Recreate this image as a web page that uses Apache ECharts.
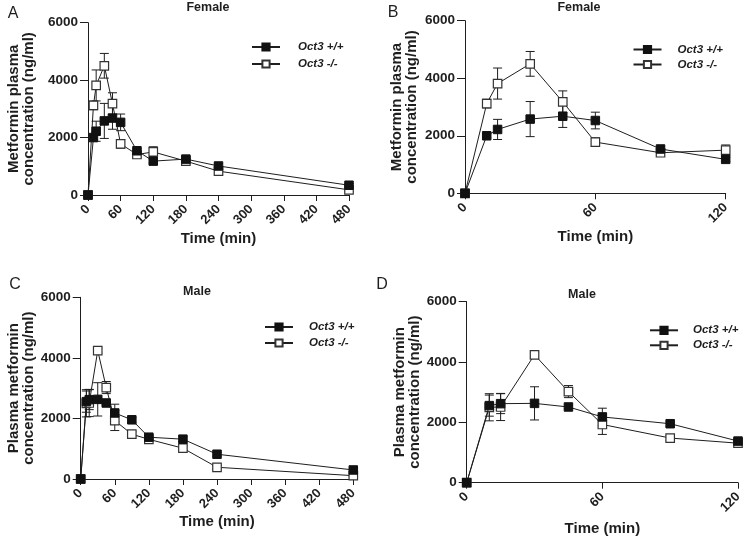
<!DOCTYPE html>
<html>
<head>
<meta charset="utf-8">
<script src="https://cdn.jsdelivr.net/npm/echarts@6/dist/echarts.min.js"></script>
<style>
html,body{margin:0;padding:0;background:#fff;}
#chart{width:745px;height:539px;}
</style>
</head>
<body>
<div id="chart"></div>
<script>
const times = [0, 10, 15, 30, 45, 60, 90, 120, 180, 240, 480];
const femaleWT    = [0, 2000, 2220, 2580, 2680, 2530, 1540, 1180, 1250, 1010, 340];
const femaleWTErr = [0, 60, 350, 610, 390, 290, 80, 70, 80, 80, 60];
const femaleKO    = [0, 3120, 3815, 4500, 3180, 1780, 1410, 1500, 1180, 830, 180];
const femaleKOErr = [0, 150, 540, 430, 380, 150, 80, 180, 80, 60, 50];
const maleWT      = [0, 2555, 2620, 2630, 2510, 2180, 1955, 1380, 1315, 818, 298];
const maleWTErr   = [0, 350, 330, 550, 60, 290, 80, 80, 80, 60, 60];
const maleKO      = [0, 2500, 2510, 4240, 3020, 1930, 1480, 1310, 1017, 387, 110];
const maleKOErr   = [0, 450, 450, 80, 200, 330, 80, 60, 80, 60, 40];
const xTicksFull = [0, 60, 120, 180, 240, 300, 360, 420, 480];
const xTicksZoom = [0, 60, 120];
const yTicks = [0, 2000, 4000, 6000];
const seriesNames = ['Oct3 +/+', 'Oct3 -/-'];
const panelLetters = ['A', 'B', 'C', 'D'];
const panelTitles = ['Female', 'Female', 'Male', 'Male'];
const yNames = ['Metformin plasma\nconcentration (ng/ml)', 'Metformin plasma\nconcentration (ng/ml)',
                'Plasma metformin\nconcentration (ng/ml)', 'Plasma metformin\nconcentration (ng/ml)'];

const FONT = 'Liberation Sans, Arial, sans-serif';
const INK = '#1e1e1e';

const panels = [
  {grid:{left:88, top:22.7, width:261, height:172.3}, xmax:480, xticks:xTicksFull, wt:femaleWT, wtE:femaleWTErr, ko:femaleKO, koE:femaleKOErr,
   yGap:52, xGap:36, legend:{left:251, top:41, gap:5, pad:13}, letter:[13,14], title:[208,8]},
  {grid:{left:465, top:20.7, width:260.7, height:172.6}, xmax:120, xticks:xTicksZoom, wt:femaleWT, wtE:femaleWTErr, ko:femaleKO, koE:femaleKOErr,
   yGap:46, xGap:36, legend:{left:632.5, top:43.5, gap:3, pad:11}, letter:[393,13], title:[579,8]},
  {grid:{left:80.7, top:297.3, width:272.6, height:181.7}, xmax:480, xticks:xTicksFull, wt:maleWT, wtE:maleWTErr, ko:maleKO, koE:maleKOErr,
   yGap:43, xGap:35, legend:{left:264, top:321, gap:4, pad:11}, letter:[15,285], title:[197,292]},
  {grid:{left:466.7, top:301.7, width:271.3, height:181}, xmax:120, xticks:xTicksZoom, wt:maleWT, wtE:maleWTErr, ko:maleKO, koE:maleKOErr,
   yGap:41, xGap:39, legend:{left:649, top:324.3, gap:3, pad:10}, letter:[382,285], title:[582,295]}
];

function errRender(params, api) {
  const x = api.value(0), y = api.value(1), e = api.value(2);
  if (!e) return null;
  const top = api.coord([x, y + e]);
  const bot = api.coord([x, y - e]);
  const w = 4.5;
  const st = {stroke: INK, lineWidth: 1};
  return {type:'group', children:[
    {type:'line', shape:{x1:top[0], y1:top[1], x2:bot[0], y2:bot[1]}, style:st},
    {type:'line', shape:{x1:top[0]-w, y1:top[1], x2:top[0]+w, y2:top[1]}, style:st},
    {type:'line', shape:{x1:bot[0]-w, y1:bot[1], x2:bot[0]+w, y2:bot[1]}, style:st}
  ]};
}

const grids = [], xAxes = [], yAxes = [], series = [], legends = [], graphics = [];
panels.forEach((p, i) => {
  grids.push(Object.assign({containLabel:false}, p.grid));
  xAxes.push({
    type:'value', gridIndex:i, min:0, max:p.xmax, interval:60,
    name:'Time (min)', nameLocation:'middle', nameGap:p.xGap,
    nameTextStyle:{fontFamily:FONT, fontWeight:'bold', fontSize:15, color:INK},
    axisLine:{show:true, onZero:false, lineStyle:{color:INK, width:1}},
    axisTick:{show:true, length:6, lineStyle:{color:INK}},
    axisLabel:{rotate:45, margin:12, fontFamily:FONT, fontWeight:'bold', fontSize:13, color:INK,
      customValues:p.xticks, formatter:(v) => String(v)},
    splitLine:{show:false}
  });
  yAxes.push({
    type:'value', gridIndex:i, min:0, max:6000, interval:2000,
    name:yNames[i], nameLocation:'middle', nameGap:p.yGap,
    nameTextStyle:{fontFamily:FONT, fontWeight:'bold', fontSize:15, lineHeight:15, color:INK},
    axisLine:{show:true, lineStyle:{color:INK, width:1}},
    axisTick:{show:true, length:8, lineStyle:{color:INK}},
    axisLabel:{margin:10, fontFamily:FONT, fontWeight:'bold', fontSize:13.5, color:INK,
      customValues:yTicks, formatter:(v) => String(v)},
    splitLine:{show:false}
  });
  const keep = (arr) => times.map((t, k) => [t, arr[k]]).filter(d => d[0] <= p.xmax);
  const keepE = (arr, e) => times.map((t, k) => [t, arr[k], e[k]]).filter(d => d[0] <= p.xmax);
  series.push({type:'custom', name:'errKO'+i, xAxisIndex:i, yAxisIndex:i, renderItem:errRender,
    encode:{x:0, y:1}, data:keepE(p.ko, p.koE), z:1, silent:true});
  series.push({type:'custom', name:'errWT'+i, xAxisIndex:i, yAxisIndex:i, renderItem:errRender,
    encode:{x:0, y:1}, data:keepE(p.wt, p.wtE), z:1, silent:true});
  series.push({type:'line', name:seriesNames[1], xAxisIndex:i, yAxisIndex:i, data:keep(p.ko),
    symbol:'rect', symbolSize:8.5, z:3,
    lineStyle:{color:INK, width:1},
    itemStyle:{color:'#ffffff', borderColor:'#333', borderWidth:1.2}});
  series.push({type:'line', name:seriesNames[0], xAxisIndex:i, yAxisIndex:i, data:keep(p.wt),
    symbol:'rect', symbolSize:8.5, z:4,
    lineStyle:{color:INK, width:1},
    itemStyle:{color:'#111', borderColor:'#111', borderWidth:1}});
  legends.push({
    left:p.legend.left, top:p.legend.top, orient:'vertical', itemGap:p.legend.gap, padding:0,
    itemWidth:28, itemHeight:9, data:seriesNames, selectedMode:false,
    textStyle:{fontFamily:FONT, fontWeight:'bold', fontStyle:'italic', fontSize:11.5, color:INK,
      lineHeight:12, padding:[0,0,0,p.legend.pad]}
  });
  graphics.push({type:'text', x:p.letter[0], y:p.letter[1],
    style:{text:panelLetters[i], font:'16px ' + FONT, fill:INK, align:'center', verticalAlign:'middle'}});
  graphics.push({type:'text', x:p.title[0], y:p.title[1],
    style:{text:panelTitles[i], font:'bold 12.5px ' + FONT, fill:INK, align:'center', verticalAlign:'middle'}});
});

const chart = echarts.init(document.getElementById('chart'), null, {renderer:'canvas'});
chart.setOption({
  animation:false,
  backgroundColor:'#fff',
  grid:grids, xAxis:xAxes, yAxis:yAxes, series:series, legend:legends, graphic:graphics
});
</script>
</body>
</html>
